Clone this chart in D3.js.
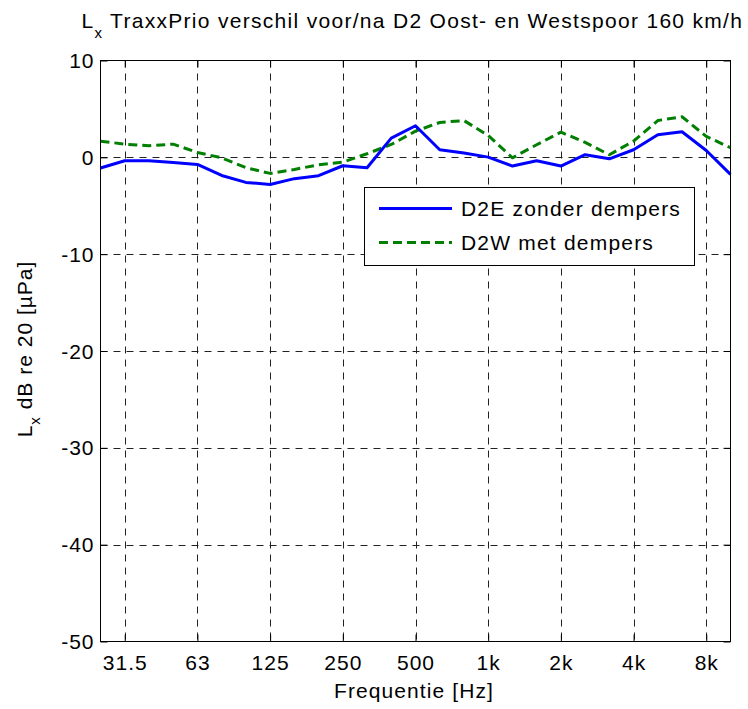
<!DOCTYPE html>
<html>
<head>
<meta charset="utf-8">
<script src="https://cdn.jsdelivr.net/npm/d3@7"></script>
<style>
  html, body { margin: 0; padding: 0; background: #fff; }
  svg text { font-family: "Liberation Sans", Arial, Helvetica, sans-serif; fill: #000; }
</style>
</head>
<body>
<script>
// ---- data ----
const bands = ["25","31.5","40","50","63","80","100","125","160","200","250","315","400","500","630","800","1k","1.25k","1.6k","2k","2.5k","3.15k","4k","5k","6.3k","8k","10k"];
const xTickLabels = ["31.5","63","125","250","500","1k","2k","4k","8k"];
const yTicks = [-50, -40, -30, -20, -10, 0, 10];
const yTickLabels = ["-50", "-40", "-30", "-20", "-10", "0", "10"];
const seriesNames = ["D2E zonder dempers", "D2W met dempers"];
const d2eValues = [-1.1, -0.35, -0.35, -0.53, -0.73, -1.87, -2.59, -2.8, -2.2, -1.9, -0.87, -1.07, 1.98, 3.26, 0.78, 0.44, 0.02, -0.9, -0.35, -0.9, 0.27, -0.15, 0.78, 2.33, 2.64, 0.71, -1.76];
const d2wValues = [1.67, 1.36, 1.2, 1.36, 0.5, -0.05, -1.07, -1.66, -1.25, -0.77, -0.49, 0.37, 1.33, 2.7, 3.6, 3.8, 2.26, -0.05, 1.3, 2.6, 1.54, 0.27, 1.67, 3.8, 4.19, 2.16, 0.99];
const titleMain = " TraxxPrio verschil voor/na D2 Oost- en Westspoor 160 km/h";
const xLabel = "Frequentie [Hz]";
const yLabelRest = " dB re 20 [\u00B5Pa]";

// ---- layout ----
const W = 748, H = 709;
const PL = 100.5, PR = 730.5, PT = 60.5, PB = 641.5;
const svg = d3.select("body").append("svg").attr("width", W).attr("height", H);
svg.append("rect").attr("width", W).attr("height", H).attr("fill", "#fff");

const x = d3.scaleLinear().domain([0, bands.length - 1]).range([PL, PR]);
const y = d3.scaleLinear().domain([-50, 10]).range([PB, PT]);
const tickIdx = xTickLabels.map(l => bands.indexOf(l));

// grid
const grid = svg.append("g").attr("stroke", "#222").attr("stroke-width", 1).attr("stroke-dasharray", "7,6");
grid.selectAll("line.v").data(tickIdx).join("line").attr("class", "v")
  .attr("x1", d => Math.round(x(d)) + 0.5).attr("x2", d => Math.round(x(d)) + 0.5)
  .attr("y1", PT).attr("y2", PB);
grid.selectAll("line.h").data(yTicks.filter(v => v > -50 && v < 10)).join("line").attr("class", "h")
  .attr("x1", PL).attr("x2", PR)
  .attr("y1", d => Math.round(y(d)) + 0.5).attr("y2", d => Math.round(y(d)) + 0.5);

// lines
const line = d3.line().x((d, i) => x(i)).y(d => y(d));
svg.append("path").datum(d2wValues).attr("d", line)
  .attr("fill", "none").attr("stroke", "#007f00").attr("stroke-width", 3)
  .attr("stroke-dasharray", "9,5").attr("stroke-linejoin", "round");
svg.append("path").datum(d2eValues).attr("d", line)
  .attr("fill", "none").attr("stroke", "#0000ff").attr("stroke-width", 3)
  .attr("stroke-linejoin", "round");

// axes
const fontSize = 21;
const axB = svg.append("g").attr("transform", `translate(0,${PB})`)
  .call(d3.axisBottom(x).tickValues(tickIdx).tickFormat(i => bands[i]).tickSizeInner(-7).tickSizeOuter(0));
axB.select(".domain").remove();
axB.selectAll("line").attr("stroke", "#000");
axB.selectAll("text").attr("y", 28).attr("dy", null)
  .style("font-size", fontSize + "px").style("letter-spacing", "1px");

const axT = svg.append("g").attr("transform", `translate(0,${PT})`)
  .call(d3.axisTop(x).tickValues(tickIdx).tickFormat("").tickSizeInner(-7).tickSizeOuter(0));
axT.select(".domain").remove();
axT.selectAll("line").attr("stroke", "#000");

const axL = svg.append("g").attr("transform", `translate(${PL},0)`)
  .call(d3.axisLeft(y).tickValues(yTicks).tickFormat((d, i) => yTickLabels[i]).tickSizeInner(-7).tickSizeOuter(0));
axL.select(".domain").remove();
axL.selectAll("line").attr("stroke", "#000");
axL.selectAll("text").attr("x", -6).attr("dy", "0.34em")
  .style("font-size", fontSize + "px").style("letter-spacing", "1px");

const axR = svg.append("g").attr("transform", `translate(${PR},0)`)
  .call(d3.axisRight(y).tickValues(yTicks).tickFormat("").tickSizeInner(-7).tickSizeOuter(0));
axR.select(".domain").remove();
axR.selectAll("line").attr("stroke", "#000");

// box
svg.append("rect").attr("x", PL).attr("y", PT).attr("width", PR - PL).attr("height", PB - PT)
  .attr("fill", "none").attr("stroke", "#000").attr("stroke-width", 1);

// title
const title = svg.append("text").attr("x", 81.5).attr("y", 28)
  .style("font-size", fontSize + "px").style("letter-spacing", "1.3px");
title.append("tspan").text("L");
title.append("tspan").attr("dy", 10).style("font-size", "15px").text("x");
title.append("tspan").attr("dy", -10).text(titleMain);

// x label
svg.append("text").attr("x", 414).attr("y", 698).attr("text-anchor", "middle")
  .style("font-size", fontSize + "px").style("letter-spacing", "1.1px").text(xLabel);

// y label
const yl = svg.append("text").attr("transform", "translate(32,349) rotate(-90)")
  .attr("text-anchor", "middle")
  .style("font-size", fontSize + "px").style("letter-spacing", "1px");
yl.append("tspan").text("L");
yl.append("tspan").attr("dy", 8).style("font-size", "15px").text("x");
yl.append("tspan").attr("dy", -8).text(yLabelRest);

// legend
const lg = svg.append("g");
lg.append("rect").attr("x", 364.5).attr("y", 187.5).attr("width", 330).attr("height", 78)
  .attr("fill", "#fff").attr("stroke", "#000").attr("stroke-width", 1);
const legendItems = [
  {name: seriesNames[0], color: "#0000ff", dash: null, yy: 208.5, ty: 216},
  {name: seriesNames[1], color: "#007f00", dash: "9,5", yy: 242.5, ty: 249.5}
];
legendItems.forEach(it => {
  lg.append("line").attr("x1", 379).attr("x2", 452).attr("y1", it.yy).attr("y2", it.yy)
    .attr("stroke", it.color).attr("stroke-width", 3).attr("stroke-dasharray", it.dash);
  lg.append("text").attr("x", 461).attr("y", it.ty)
    .style("font-size", fontSize + "px").style("letter-spacing", "1.2px").text(it.name);
});
</script>
</body>
</html>
